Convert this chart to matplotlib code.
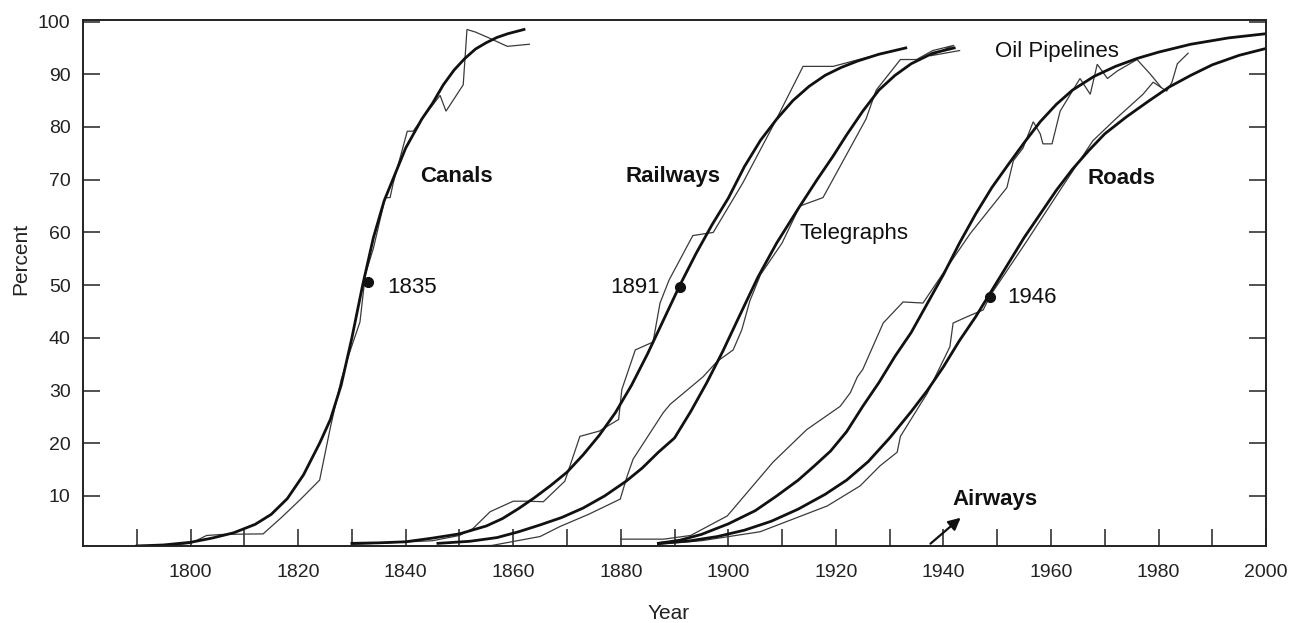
import matplotlib
matplotlib.use("Agg")
import matplotlib.pyplot as plt
from matplotlib.ticker import FixedLocator

plt.rcParams['font.family'] = ['Liberation Sans', 'DejaVu Sans']

# ---- logistic fits (thick) ----
canals_fit_x = [1790, 1795, 1800, 1804, 1808, 1812, 1815, 1818, 1821, 1824, 1826, 1828, 1830, 1832, 1834, 1836, 1838, 1840, 1843, 1845, 1847, 1849, 1851, 1853, 1855, 1857, 1859, 1862]
canals_fit_y = [0.5, 0.7, 1.2, 2.0, 3.0, 4.6, 6.5, 9.5, 14, 20, 24.5, 31, 40, 50, 59, 66, 71, 76, 81.5, 84.5, 88, 90.8, 93, 94.8, 96, 97, 97.7, 98.5]

rail_fit_x = [1830, 1835, 1840, 1845, 1850, 1855, 1858, 1861, 1864, 1867, 1870, 1873, 1876, 1879, 1882, 1885, 1888, 1891, 1894, 1897, 1900, 1903, 1906, 1909, 1912, 1915, 1918, 1921, 1924, 1928, 1933]
rail_fit_y = [1.0, 1.1, 1.3, 2.0, 2.8, 4.3, 5.7, 7.6, 9.7, 12, 14.5, 17.8, 21.5, 25.8, 31, 37, 43.5, 50, 56, 61.5, 66.5, 72.5, 77.5, 81.5, 85, 87.7, 89.8, 91.3, 92.5, 93.8, 95]

tele_fit_x = [1846, 1852, 1857, 1861, 1865, 1869, 1873, 1877, 1881, 1884, 1887, 1890, 1893, 1896, 1899, 1902, 1905.5, 1909, 1913, 1916.5, 1919.5, 1922, 1925, 1928, 1931, 1934, 1938, 1942]
tele_fit_y = [1.0, 1.4, 2.1, 3.2, 4.5, 5.9, 7.7, 10, 12.8, 15.3, 18.3, 21, 26, 31.5, 37.5, 44, 51.5, 58, 64.5, 70, 74.5, 78.5, 83, 87, 89.8, 92, 94, 95]

oil_fit_x = [1887, 1891, 1895, 1900, 1905, 1909, 1913, 1916, 1919, 1922, 1925, 1928, 1931, 1934, 1937, 1940, 1943, 1946, 1949, 1952, 1955, 1958, 1961, 1964, 1968, 1972, 1976, 1980, 1986, 1993, 2000]
oil_fit_y = [1.0, 1.6, 2.7, 4.7, 7.2, 10, 13, 15.7, 18.5, 22.2, 27, 31.5, 36.5, 41, 46.5, 52, 58, 63.5, 68.5, 72.8, 77, 81, 84.3, 87, 89.6, 91.5, 93, 94.2, 95.7, 96.9, 97.7]

roads_fit_x = [1887, 1893, 1898, 1903, 1908, 1913, 1918, 1922, 1926, 1930, 1934, 1937, 1940, 1943, 1946, 1949, 1952, 1955, 1958, 1961, 1964, 1967, 1970, 1974, 1978, 1982, 1986, 1990, 1995, 2000]
roads_fit_y = [1.0, 1.5, 2.3, 3.5, 5.2, 7.5, 10.3, 13, 16.5, 21, 26, 30, 34.5, 39.5, 44, 49, 54, 59, 63.5, 68, 72, 75.5, 78.7, 81.9, 84.8, 87.6, 89.8, 91.8, 93.6, 94.9]

# ---- empirical data (thin) ----
canals_x = [1790, 1796, 1800, 1803, 1806, 1813.5, 1817, 1820.5, 1824, 1826, 1828, 1829.5, 1831.5, 1832.5, 1834, 1836.2, 1837.1, 1837.7, 1840.3, 1841.4, 1843, 1846.4, 1847.5, 1850.7, 1851.4, 1853, 1855.7, 1858.9, 1863]
canals_y = [0.6, 0.6, 1.0, 2.5, 2.7, 2.8, 6, 9.4, 13, 23, 32, 37, 43, 52, 57, 66.6, 66.6, 69.4, 79.2, 79.2, 81.5, 86, 83, 88, 98.5, 98, 96.8, 95.3, 95.7]

rail_x = [1830, 1845, 1850, 1852.5, 1855.7, 1860, 1862.6, 1865.6, 1869.6, 1872.4, 1876, 1879.6, 1880.2, 1882.7, 1886, 1887.3, 1889, 1893.4, 1897.2, 1902.7, 1908.3, 1913.9, 1919.5, 1925, 1933]
rail_y = [0.8, 1.5, 2.5, 3.8, 7, 9, 9, 8.9, 12.8, 21.3, 22.3, 24.5, 30.2, 37.7, 39.2, 46.6, 51, 59.4, 60, 69.4, 80.2, 91.5, 91.5, 93, 95]

tele_x = [1840, 1856, 1865, 1868.7, 1874, 1879.9, 1881.2, 1882.3, 1887.9, 1889.2, 1895.3, 1897.9, 1900.9, 1902.5, 1904, 1906, 1910, 1913.3, 1917.6, 1925.6, 1927.5, 1932, 1935, 1938, 1942, 1937.5, 1943]
tele_y = [0.4, 0.6, 2.3, 4.2, 6.5, 9.4, 13.8, 17, 25.8, 27.4, 32.6, 35.5, 37.7, 41.5, 47, 52, 58, 65, 66.6, 81.5, 87, 92.8, 92.8, 94.5, 95.5, 93.5, 94.5]

oil_x = [1880, 1888, 1893, 1899.8, 1908.3, 1914.6, 1920.8, 1922.7, 1924, 1925, 1928.8, 1932.5, 1936.2, 1940.7, 1945, 1951.8, 1953, 1954.8, 1956.7, 1958, 1958.5, 1960.2, 1961.7, 1965.4, 1967.3, 1968.6, 1970.5, 1972.3, 1976, 1978.5, 1980.5]
oil_y = [1.8, 1.8, 2.5, 6.2, 16.4, 22.6, 27, 29.6, 32.6, 34, 42.8, 46.8, 46.6, 53.4, 59.8, 68.5, 73.6, 76, 81, 78.7, 76.8, 76.8, 83, 89.2, 86.2, 91.9, 89.2, 90.6, 92.8, 90, 87.5]

roads_x = [1887, 1895, 1905.9, 1918.4, 1924.5, 1928.2, 1931.4, 1932, 1937, 1941.2, 1941.8, 1944.4, 1947.4, 1948.7, 1955.6, 1962, 1967.8, 1972, 1977.1, 1979, 1981.5, 1982.5, 1983.5, 1985.5]
roads_y = [0.8, 1.5, 3.2, 8.1, 11.9, 15.7, 18.3, 21.3, 29.5, 38.3, 42.8, 44, 45.3, 48, 58.5, 68.5, 77.4, 81.5, 86.2, 88.5, 86.8, 88.5, 92, 94]

# midpoint markers
mid_x = [1833, 1891, 1948.7]
mid_y = [50.5, 49.6, 47.7]

fig = plt.figure(figsize=(12.91, 6.23), dpi=100)
ax = fig.add_axes([0.0643, 0.1236, 0.9164, 0.8443])

thin_kw = dict(color='#3a3a3a', lw=0.9, solid_joinstyle='miter')
thick_kw = dict(color='#111111', lw=2.0)

for xs, ys in [(canals_x, canals_y), (rail_x, rail_y), (tele_x, tele_y), (oil_x, oil_y), (roads_x, roads_y)]:
    ax.plot(xs, ys, **thin_kw)
for xs, ys in [(canals_fit_x, canals_fit_y), (rail_fit_x, rail_fit_y), (tele_fit_x, tele_fit_y), (oil_fit_x, oil_fit_y), (roads_fit_x, roads_fit_y)]:
    ax.plot(xs, ys, **thick_kw)

ax.plot(mid_x, mid_y, 'o', color='#111111', ms=7, zorder=5)

ax.set_xlim(1780, 2000)
ax.set_ylim(0.5, 100.3)

ax.xaxis.set_major_locator(FixedLocator(list(range(1800, 2001, 20))))
ax.xaxis.set_minor_locator(FixedLocator(list(range(1790, 2000, 20))))
ax.yaxis.set_major_locator(FixedLocator(list(range(10, 101, 10))))

ax.tick_params(axis='x', which='both', direction='in', length=12, width=1.1, top=False, pad=13, labelsize=14, colors='#222222')
ax.tick_params(axis='y', which='both', direction='in', length=12, width=1.1, right=True, pad=9, labelsize=14, colors='#222222')

for s in ax.spines.values():
    s.set_linewidth(1.4)
    s.set_color('#222222')

ax.set_xlabel('Year', fontsize=15, color='#222222')
ax.xaxis.set_label_coords(0.495, -0.11)
ax.set_ylabel('Percent', fontsize=15, color='#222222')
ax.yaxis.set_label_coords(-0.045, 0.545)

fs = 16
ax.text(1842.7, 70.7, 'Canals', fontsize=fs, fontweight='bold', va='center', ha='left', color='#111111')
ax.text(1836.5, 49.6, '1835', fontsize=fs, va='center', ha='left', color='#111111')
ax.text(1880.8, 70.7, 'Railways', fontsize=fs, fontweight='bold', va='center', ha='left', color='#111111')
ax.text(1887.3, 49.6, '1891', fontsize=fs, va='center', ha='right', color='#111111')
ax.text(1913.3, 59.8, 'Telegraphs', fontsize=fs, va='center', ha='left', color='#111111')
ax.text(1949.6, 94.3, 'Oil Pipelines', fontsize=fs, va='center', ha='left', color='#111111')
ax.text(1966.7, 70.2, 'Roads', fontsize=fs, fontweight='bold', va='center', ha='left', color='#111111')
ax.text(1951.8, 47.7, '1946', fontsize=fs, va='center', ha='left', color='#111111')
ax.text(1941.6, 9.4, 'Airways', fontsize=fs, fontweight='bold', va='center', ha='left', color='#111111')
ax.annotate('', xy=(1943.6, 6.2), xytext=(1937.2, 0.6),
            arrowprops=dict(arrowstyle='-|>', color='#111111', lw=1.6, mutation_scale=18))

fig.savefig('out.png', dpi=100, facecolor='white')
